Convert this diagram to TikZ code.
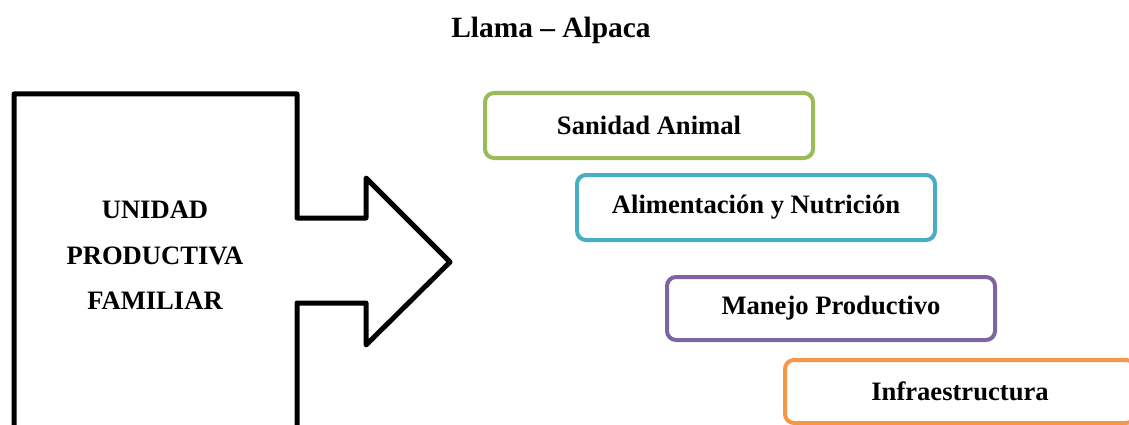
\documentclass[tikz,border=0pt]{standalone}
\usepackage{fontspec}
\setmainfont{Liberation Serif}
\definecolor{cgreen}{HTML}{9BBB59}
\definecolor{cblue}{HTML}{4BACC6}
\definecolor{cpurple}{HTML}{8064A2}
\definecolor{corange}{HTML}{F79646}
\tikzset{
  itembox/.style={draw, line width=4pt, rounded corners=9pt, fill=white, inner sep=0pt,
    font=\fontsize{26.6}{31}\selectfont\bfseries},
  lbl/.style={font=\fontsize{26.6}{31}\selectfont\bfseries, align=center, inner sep=0pt}
}
\begin{document}
\begin{tikzpicture}[x=1pt,y=-1pt]
\useasboundingbox (0,0) rectangle (1129,425);
\clip (0,0) rectangle (1129,425);
\node[lbl, font=\fontsize{29.4}{34}\selectfont\bfseries] (title) at (551,30) {Llama – Alpaca};
% big arrow outline
\draw[line width=5pt, line join=round, line cap=round]
  (14,440) -- (14,94) -- (297,94) -- (297,218) -- (366,218) -- (366,178)
  -- (450,262) -- (366,345) -- (366,303) -- (297,303) -- (297,440);
\node[lbl] (unidad) at (155,210) {UNIDAD};
\node[lbl] (prod) at (155,256) {PRODUCTIVA};
\node[lbl] (fam) at (155,301) {FAMILIAR};
\node[itembox, draw=cgreen, minimum width=328pt, minimum height=65pt] (s) at (649,125.5) {Sanidad Animal};
\node[itembox, draw=cblue, minimum width=358pt, minimum height=65pt] (a) at (756,207.5) {Alimentación y Nutrición};
\node[itembox, draw=cpurple, minimum width=328pt, minimum height=63pt] (m) at (831,308.5) {Manejo Productivo};
\node[itembox, draw=corange, minimum width=350pt, minimum height=63pt] (i) at (960,391.5) {Infraestructura};
\end{tikzpicture}
\end{document}
